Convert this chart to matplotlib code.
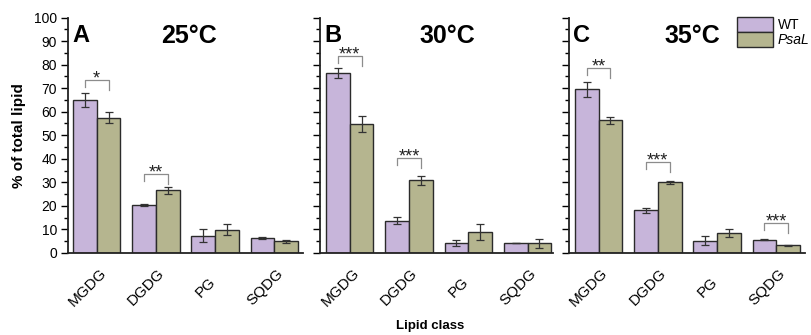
import matplotlib
matplotlib.use("Agg")
import matplotlib.pyplot as plt
from matplotlib.ticker import MultipleLocator
from matplotlib.patches import Patch
from matplotlib.transforms import ScaledTranslation
import numpy as np

plt.rcParams['font.family'] = ['Liberation Sans', 'DejaVu Sans']

categories = ["MGDG", "DGDG", "PG", "SQDG"]
panel_letters = ["A", "B", "C"]
temperatures = ["25°C", "30°C", "35°C"]

wt_25 = [65.0, 20.4, 7.4, 6.3]
wt_25_err = [3.1, 0.3, 2.8, 0.4]
psal_25 = [57.5, 26.6, 9.9, 5.0]
psal_25_err = [2.5, 1.5, 2.3, 0.7]

wt_30 = [76.6, 13.8, 4.3, 4.2]
wt_30_err = [2.1, 1.4, 1.2, 0.1]
psal_30 = [54.8, 30.8, 8.9, 4.1]
psal_30_err = [3.4, 2.1, 3.4, 2.0]

wt_35 = [69.6, 18.1, 5.2, 5.7]
wt_35_err = [3.2, 1.0, 2.0, 0.3]
psal_35 = [56.3, 30.1, 8.6, 3.3]
psal_35_err = [1.5, 0.6, 1.8, 0.2]

# significance: (category index, label, bracket top value)
sig_25 = [(0, "*", 73.5), (1, "**", 33.5)]
sig_30 = [(0, "***", 83.6), (1, "***", 40.4)]
sig_35 = [(0, "**", 78.7), (1, "***", 38.6), (3, "***", 12.9)]

panels = [
    (wt_25, wt_25_err, psal_25, psal_25_err, sig_25),
    (wt_30, wt_30_err, psal_30, psal_30_err, sig_30),
    (wt_35, wt_35_err, psal_35, psal_35_err, sig_35),
]

wt_color = "#c7b5da"
psal_color = "#b5b58f"
edge = "#2b2b2b"

fig = plt.figure(figsize=(8.11, 3.35), dpi=100)
W, H = 811, 335
ax_px = [(68, 303, -0.485, 3.485), (320, 553, -0.50, 3.43), (569, 805, -0.50, 3.485)]
temp_px = [189, 447, 692]
y0_px, y100_px = 253, 17.5

width = 0.4
x = np.arange(len(categories))
ekw = dict(ecolor="#333333", elinewidth=0.9, capsize=3.0, capthick=0.9)
for i, ((wt, wte, ps, pse, sig), (l, r, xl, xr)) in enumerate(zip(panels, ax_px)):
    ax = fig.add_axes([l / W, 1 - y0_px / H, (r - l) / W, (y0_px - y100_px) / H])
    ax.bar(x - width / 2, wt, width, yerr=wte, color=wt_color, edgecolor=edge,
           linewidth=1.0, error_kw=ekw, label="WT", zorder=2)
    ax.bar(x + width / 2, ps, width, yerr=pse, color=psal_color, edgecolor=edge,
           linewidth=1.0, error_kw=ekw, label="PsaL", zorder=2)
    ax.set_xlim(xl, xr)
    ax.set_ylim(0, 100)
    ax.yaxis.set_major_locator(MultipleLocator(10))
    ax.yaxis.set_minor_locator(MultipleLocator(5))
    ax.spines['top'].set_visible(False)
    ax.spines['right'].set_visible(False)
    for s in ['left', 'bottom']:
        ax.spines[s].set_linewidth(1.3)
        ax.spines[s].set_color("#222222")
    ax.tick_params(axis='y', which='major', direction='out', length=5, width=1.0,
                   labelsize=10, pad=3)
    ax.tick_params(axis='y', which='minor', direction='out', length=3, width=1.0)
    ax.tick_params(axis='x', length=0, labelsize=11, pad=0)
    ax.set_xticks(x)
    ax.set_xticklabels(categories, rotation=45, ha='center', va='center',
                       rotation_mode='anchor')
    off = ScaledTranslation(-9.5 / 100, -34 / 100, fig.dpi_scale_trans)
    for lab in ax.get_xticklabels():
        lab.set_transform(lab.get_transform() + off)
    if i > 0:
        ax.tick_params(axis='y', labelleft=False)
    # panel letter and temperature, positioned in figure pixels
    fig.text((l + 4) / W, 1 - 24 / H, panel_letters[i], fontsize=17,
             fontweight='bold', va='top', ha='left')
    fig.text(temp_px[i] / W, 1 - 24 / H, temperatures[i], fontsize=18,
             fontweight='bold', va='top', ha='center')
    for (ci, lab, top) in sig:
        xa, xb = ci - width / 2, ci + width / 2
        ax.plot([xa, xa, xb, xb], [top - 3.0, top, top, top - 4.3], color="#8c8c8c",
                linewidth=0.9, zorder=3)
        ax.text(ci, top - 1.6, lab, ha='center', va='baseline', fontsize=13,
                color="#222222")

handles = [Patch(facecolor=wt_color, edgecolor=edge, linewidth=1.0),
           Patch(facecolor=psal_color, edgecolor=edge, linewidth=1.0)]
leg = fig.legend(handles, ["WT", "PsaL"], loc='upper left',
                 bbox_to_anchor=(737 / W, 1 - 17 / H), frameon=False, fontsize=10,
                 handlelength=2.6, handleheight=1.25, handletextpad=0.35,
                 labelspacing=0.02, borderpad=0.0, borderaxespad=0.0)
leg.get_texts()[1].set_fontstyle('italic')

fig.text(19 / W, 1 - 136 / H, "% of total lipid", ha='center', va='center',
         rotation=90, fontsize=11, fontweight='bold')
fig.text(430 / W, 1 - 326 / H, "Lipid class", ha='center', va='center',
         fontsize=9.5, fontweight='bold')

fig.savefig("out.png", dpi=100)
